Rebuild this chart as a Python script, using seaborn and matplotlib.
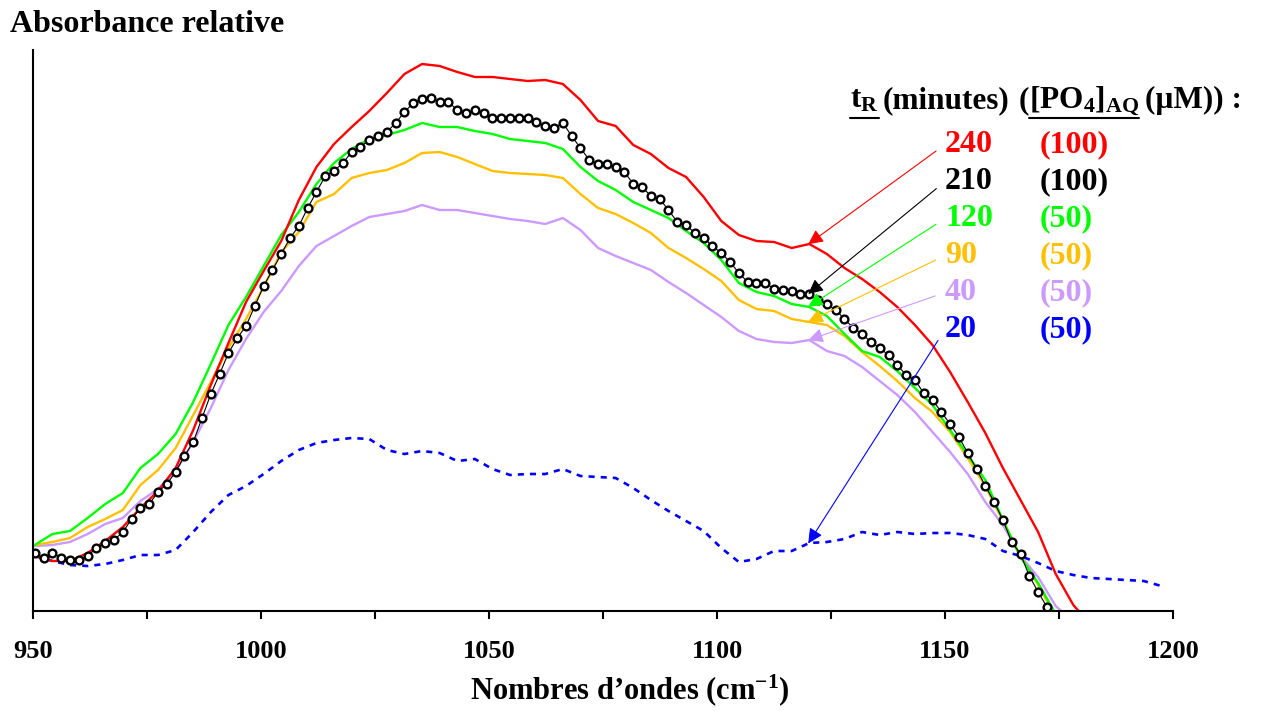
import numpy as np
import pandas as pd
import matplotlib
matplotlib.use("Agg")
import matplotlib.pyplot as plt
import seaborn as sns
from matplotlib.lines import Line2D
from matplotlib.transforms import IdentityTransform

# ---------------- data (relative absorbance, arbitrary units) ----------------
WN_START = 950.4      # first wavenumber of the spectrometer grid (cm-1)
WN_STEP = 1.93        # grid spacing (cm-1)

abs_210 = [0.58, 0.53, 0.58, 0.53, 0.51, 0.51, 0.55, 0.63, 0.68, 0.71,
           0.79, 0.92, 1.03, 1.07, 1.19, 1.27, 1.39, 1.55, 1.69, 1.93,
           2.17, 2.37, 2.58, 2.73, 2.85, 3.05, 3.25, 3.41, 3.57, 3.73,
           3.85, 4.03, 4.19, 4.35, 4.40, 4.48, 4.59, 4.64, 4.71, 4.75,
           4.79, 4.88, 4.99, 5.08, 5.12, 5.13, 5.09, 5.09, 5.01, 4.98,
           5.01, 4.98, 4.93, 4.93, 4.93, 4.93, 4.93, 4.89, 4.85, 4.83,
           4.88, 4.75, 4.63, 4.51, 4.47, 4.47, 4.44, 4.39, 4.27, 4.24,
           4.15, 4.12, 4.01, 3.89, 3.86, 3.78, 3.73, 3.65, 3.58, 3.49,
           3.38, 3.29, 3.28, 3.28, 3.22, 3.21, 3.20, 3.17, 3.17, 3.11,
           3.07, 3.01, 2.92, 2.83, 2.77, 2.69, 2.63, 2.56, 2.46, 2.36,
           2.31, 2.18, 2.11, 1.99, 1.87, 1.74, 1.58, 1.42, 1.25, 1.09,
           0.91, 0.69, 0.57, 0.35, 0.19, 0.04, -0.14]

# the other spectra are given on every second grid point
abs_240 = [0.55, 0.50, 0.50, 0.58, 0.70, 0.84, 1.03, 1.20, 1.43, 1.81,
           2.26, 2.68, 3.09, 3.40, 3.70, 4.11, 4.44, 4.67, 4.84, 5.00,
           5.18, 5.37, 5.47, 5.45, 5.39, 5.34, 5.34, 5.32, 5.30, 5.31,
           5.27, 5.11, 4.90, 4.85, 4.66, 4.57, 4.43, 4.34, 4.14, 3.90,
           3.76, 3.70, 3.69, 3.63, 3.67, 3.57, 3.43, 3.32, 3.19, 3.04,
           2.86, 2.66, 2.39, 2.09, 1.78, 1.43, 1.11, 0.79, 0.37, 0.06,
           -0.14]

abs_120 = [0.66, 0.77, 0.80, 0.93, 1.07, 1.18, 1.43, 1.57, 1.77, 2.09,
           2.47, 2.86, 3.14, 3.45, 3.76, 3.99, 4.27, 4.48, 4.62, 4.72,
           4.76, 4.81, 4.88, 4.84, 4.84, 4.80, 4.77, 4.72, 4.70, 4.68,
           4.62, 4.44, 4.30, 4.21, 4.09, 4.01, 3.93, 3.80, 3.68, 3.51,
           3.28, 3.19, 3.15, 3.07, 3.04, 2.95, 2.77, 2.60, 2.54, 2.40,
           2.23, 2.06, 1.81, 1.56, 1.31, 0.91, 0.54, 0.28, -0.03]

abs_90 = [0.66, 0.69, 0.73, 0.84, 0.92, 1.01, 1.26, 1.41, 1.63, 1.96,
          2.29, 2.63, 2.92, 3.24, 3.59, 3.79, 4.09, 4.17, 4.33, 4.38,
          4.41, 4.48, 4.58, 4.59, 4.54, 4.47, 4.40, 4.38, 4.37, 4.36,
          4.33, 4.17, 4.03, 3.97, 3.88, 3.78, 3.63, 3.53, 3.42, 3.30,
          3.11, 3.02, 3.00, 2.92, 2.89, 2.86, 2.75, 2.59, 2.45, 2.30,
          2.13, 1.99, 1.79, 1.53, 1.25, 0.90, 0.55, 0.26, -0.06]

abs_40 = [0.65, 0.66, 0.69, 0.77, 0.87, 0.93, 1.10, 1.22, 1.40, 1.69,
          2.03, 2.41, 2.72, 2.99, 3.20, 3.45, 3.65, 3.75, 3.85, 3.94,
          3.97, 4.00, 4.06, 4.01, 4.01, 3.98, 3.95, 3.92, 3.90, 3.87,
          3.93, 3.81, 3.63, 3.55, 3.48, 3.41, 3.29, 3.18, 3.06, 2.94,
          2.80, 2.72, 2.69, 2.68, 2.71, 2.60, 2.55, 2.44, 2.30, 2.16,
          1.99, 1.79, 1.59, 1.37, 1.09, 0.86, 0.55, 0.34, 0.05, -0.11]

abs_20 = [0.55, 0.50, 0.46, 0.45, 0.47, 0.51, 0.56, 0.56, 0.61, 0.79,
          0.99, 1.16, 1.25, 1.37, 1.50, 1.61, 1.68, 1.71, 1.73, 1.72,
          1.61, 1.57, 1.60, 1.58, 1.50, 1.52, 1.42, 1.36, 1.37, 1.37,
          1.42, 1.35, 1.34, 1.33, 1.23, 1.11, 1.00, 0.90, 0.80, 0.63,
          0.49, 0.52, 0.60, 0.60, 0.68, 0.69, 0.72, 0.79, 0.76, 0.79,
          0.77, 0.78, 0.78, 0.76, 0.72, 0.60, 0.55, 0.48, 0.40, 0.36,
          0.33, 0.32, 0.31, 0.30, 0.25]

t_labels = ["240", "210", "120", "90", "40", "20"]
c_labels = ["(100)", "(100)", "(50)", "(50)", "(50)", "(50)"]
x_ticks = [950, 1000, 1050, 1100, 1150, 1200]

# ---------------- style ----------------
sns.set_style("ticks")
plt.rcParams["font.family"] = ["Liberation Serif", "DejaVu Serif"]
plt.rcParams["font.weight"] = "bold"
plt.rcParams["text.color"] = "black"
plt.rcParams["axes.labelcolor"] = "black"
plt.rcParams["xtick.color"] = "black"
plt.rcParams["mathtext.fontset"] = "custom"
plt.rcParams["mathtext.rm"] = "Liberation Serif:bold"
plt.rcParams["mathtext.it"] = "Liberation Serif:italic:bold"
plt.rcParams["mathtext.bf"] = "Liberation Serif:bold"
plt.rcParams["mathtext.default"] = "rm"

colors = {"240": "#FF0000", "210": "#000000", "120": "#00FF00",
          "90": "#FFC000", "40": "#CC99FF", "20": "#0000FF"}

def grid(n, stride):
    return WN_START + WN_STEP * stride * np.arange(n)

series = {
    "240": (grid(len(abs_240), 2), abs_240),
    "210": (grid(len(abs_210), 1), abs_210),
    "120": (grid(len(abs_120), 2), abs_120),
    "90": (grid(len(abs_90), 2), abs_90),
    "40": (grid(len(abs_40), 2), abs_40),
    "20": (grid(len(abs_20), 2), abs_20),
}

W, H, DPI = 1261, 711, 100
fig = plt.figure(figsize=(W / DPI, H / DPI), dpi=DPI)
ax = fig.add_axes([33 / W, 100 / H, 1140 / W, 561 / H])

draw_order = ["20", "40", "90", "120", "240", "210"]
for key in draw_order:
    xs, ys = series[key]
    df = pd.DataFrame({"wn": xs, "A": ys})
    if key == "20":
        sns.lineplot(data=df, x="wn", y="A", ax=ax, color=colors[key],
                     lw=1.9, linestyle=(0, (2.3, 2.3)), sort=False, estimator=None)
    elif key == "210":
        sns.lineplot(data=df, x="wn", y="A", ax=ax, color="black", lw=0.8,
                     marker="o", markersize=5.6, markerfacecolor="white",
                     markeredgecolor="black", markeredgewidth=1.7,
                     sort=False, estimator=None)
    else:
        sns.lineplot(data=df, x="wn", y="A", ax=ax, color=colors[key],
                     lw=1.7, sort=False, estimator=None)

ax.set_xlim(950, 1200)
ax.set_ylim(0, 5.61)
ax.set_yticks([])
ax.set_ylabel("")
ax.set_xticks(x_ticks)
ax.set_xticks(np.arange(975, 1200, 50), minor=True)
ax.tick_params(axis="x", which="both", direction="out", length=6, width=1.5,
               pad=15, labelsize=19, colors="black")
for s in ["top", "right"]:
    ax.spines[s].set_visible(False)
for s in ["left", "bottom"]:
    ax.spines[s].set_linewidth(1.5)
    ax.spines[s].set_color("black")

ax.set_xlabel("Nombres d’ondes (cm$^{-1}$)", fontsize=22, fontweight="bold",
              color="black")
ax.xaxis.set_label_coords(0.5237, -0.141)
ax.xaxis.label.set_va("center")

fig.text(10 / W, 1 - 32 / H, "Absorbance relative", fontsize=23,
         fontweight="bold", ha="left", va="baseline", color="black")

# ---------------- labels with arrows ----------------
tip_x = 1120
label_x = 1150
conc_x = 1170.8
label_y = [4.59, 4.22, 3.85, 3.48, 3.11, 2.74]
for lab, conc, ly in zip(t_labels, c_labels, label_y):
    xs, ys = series[lab]
    ty = float(np.interp(tip_x, xs, ys))
    ax.annotate(lab, xy=(tip_x, ty), xytext=(label_x, ly), textcoords="data",
                color=colors[lab], fontsize=23, fontweight="bold",
                ha="left", va="baseline", annotation_clip=False,
                arrowprops=dict(arrowstyle="-|>,head_length=0.45,head_width=0.22",
                                color=colors[lab], lw=0.8,
                                shrinkA=5, shrinkB=0, relpos=(0, 0.5),
                                mutation_scale=20))
    ax.text(conc_x, ly, conc, color=colors[lab], fontsize=23,
            fontweight="bold", ha="left", va="baseline")

# ---------------- header with underlined parts ----------------
fig.canvas.draw()
renderer = fig.canvas.get_renderer()
hx, hy = ax.transData.transform((1129.2, 5.03))
pieces = [(r"$\mathrm{t}_{\mathrm{R}}$", True, 4),
          ("(minutes)", False, 9),
          ("(", False, 0),
          (r"$\mathrm{[PO}_{\mathrm{4}}\mathrm{]}_{\mathrm{AQ}}$", True, 6),
          ("(µM)) :", False, 0)]
for txt, underline, gap in pieces:
    t = fig.text(hx / fig.bbox.width, hy / fig.bbox.height, txt, fontsize=22.5,
                 fontweight="bold", ha="left", va="baseline", color="black")
    bb = t.get_window_extent(renderer)
    if underline:
        fig.add_artist(Line2D([bb.x0, bb.x1], [hy - 10, hy - 10],
                              transform=IdentityTransform(), color="black",
                              lw=1.5))
    hx = bb.x1 + gap

fig.savefig("out.png", dpi=DPI)
